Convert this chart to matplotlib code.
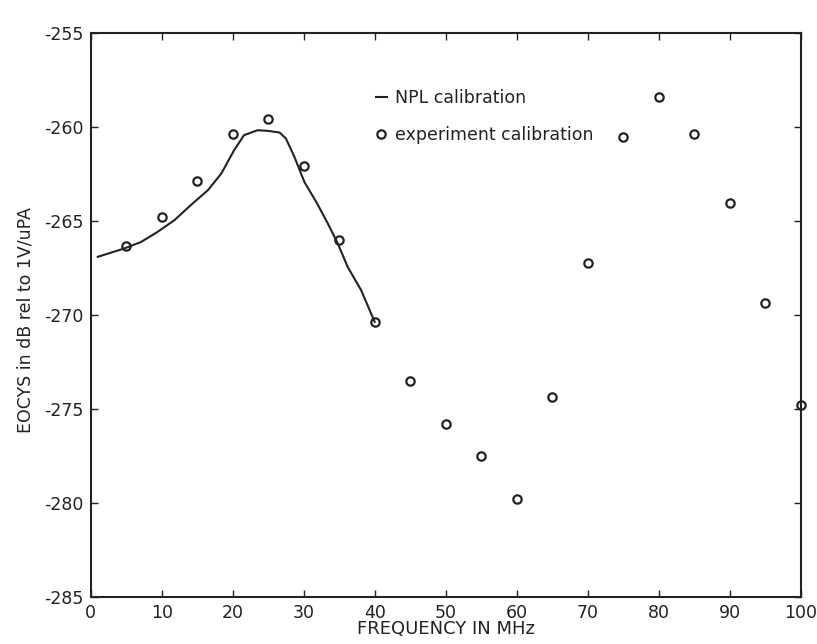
import numpy as np
import matplotlib
matplotlib.use("Agg")
import matplotlib.pyplot as plt

plt.rcParams['font.family'] = ['DejaVu Sans']
plt.rcParams['axes.unicode_minus'] = False

# experiment calibration points (every 5 MHz)
freq_exp = [5, 10, 15, 20, 25, 30, 35, 40, 45, 50,
            55, 60, 65, 70, 75, 80, 85, 90, 95, 100]
eocys_exp = [-266.35, -264.8, -262.87, -260.39, -259.57, -262.07, -266.03, -270.39, -273.49, -275.78,
             -277.52, -279.8, -274.36, -267.23, -260.55, -258.4, -260.39, -264.07, -269.34, -274.8]

# NPL calibration curve
freq_npl = [1.0, 4.7, 7.1, 9.4, 11.8, 14.1, 16.5, 18.4, 20.2, 21.6, 23.5, 24.9,
            26.6, 27.5, 28.7, 30.1, 31.9, 33.4, 34.8, 36.2, 38.1, 39.5, 40.0]
eocys_npl = [-266.91, -266.47, -266.12, -265.59, -264.96, -264.16, -263.37, -262.48,
             -261.24, -260.44, -260.18, -260.21, -260.30, -260.62, -261.60, -262.93,
             -264.08, -265.14, -266.20, -267.45, -268.69, -269.93, -270.37]

ink = '#222222'

fig = plt.figure(figsize=(8.17, 6.44), dpi=100)
ax = fig.add_axes([0.111, 0.073, 0.869, 0.876])

ax.plot(freq_npl, eocys_npl, '-', color=ink, lw=1.5, label='NPL calibration')
ax.plot(freq_exp, eocys_exp, 'o', mfc='none', mec=ink, mew=1.6, ms=6,
        label='experiment calibration', clip_on=False)

ax.set_xlim(0, 100)
ax.set_ylim(-285, -255)
ax.set_xticks(np.arange(0, 101, 10))
ax.set_yticks(np.arange(-285, -254, 5))
ax.tick_params(direction='in', top=True, right=True, length=5, width=1,
               labelsize=12.5, colors=ink)
ax.tick_params(axis='x', pad=5)
ax.tick_params(axis='y', pad=5)
for s in ax.spines.values():
    s.set_linewidth(1.5)
    s.set_color(ink)

ax.set_xlabel('FREQUENCY IN MHz', fontsize=13, color=ink)
ax.xaxis.set_label_coords(0.5, -0.041)
ax.set_ylabel('EOCYS in dB rel to 1V/uPA', fontsize=12.5, color=ink)
ax.yaxis.set_label_coords(-0.079, 0.49)

ax.legend(loc='upper left', bbox_to_anchor=(0.38, 0.928), frameon=False,
          handlelength=0.6, handletextpad=0.5, fontsize=12.5, labelspacing=1.1,
          labelcolor=ink)

fig.savefig('out.png', dpi=100)
